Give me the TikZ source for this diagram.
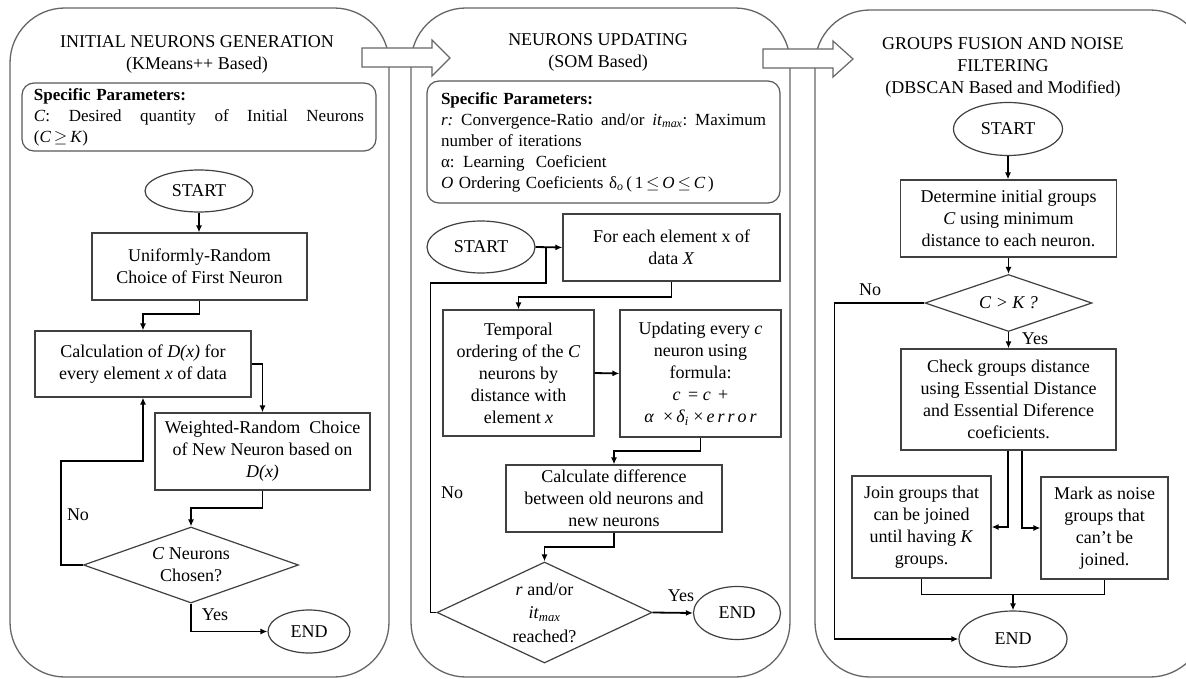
\documentclass[tikz,border=0pt]{standalone}
\usepackage{fontspec}
\setmainfont{Liberation Serif}
\usetikzlibrary{shapes.geometric,arrows.meta,calc}
\begin{document}
\begin{tikzpicture}[x=1pt,y=-1pt,
  every node/.style={font=\fontsize{18}{22}\selectfont, inner sep=0pt},
  panel/.style={draw=black!60, line width=1.3pt, rounded corners=55pt},
  parbox/.style={draw=black!65, line width=1.2pt, rounded corners=12pt, align=left, font=\fontsize{17}{21}\selectfont},
  box/.style={draw=black!75, line width=1.2pt, align=center},
  term/.style={ellipse, draw=black!75, line width=1.2pt},
  dec/.style={diamond, draw=black!75, line width=1.2pt},
  dtext/.style={align=center},
  conn/.style={line width=1.8pt, -{Latex[length=7pt,width=6pt]}},
  link/.style={line width=1.8pt},
  blockarrow/.style={draw=black!60, line width=1.2pt, fill=white}
]
\clip (0,0) rectangle (1186,679);
\fill[white] (0,0) rectangle (1186,679);
% panels
\draw[panel] (10,8) rectangle (389,677);
\draw[panel] (411,8) rectangle (790,677);
\draw[panel] (815,10) rectangle (1205,677);
% block arrows
\draw[blockarrow] (362,48) -- (432,48) -- (432,40) -- (450,58) -- (432,76) -- (432,67) -- (362,67) -- cycle;
\draw[blockarrow] (763,49) -- (833,49) -- (833,41) -- (853,59) -- (833,77) -- (833,68) -- (763,68) -- cycle;

% ---------------- panel 1
\node[align=center] (t1) at (197,54) {INITIAL NEURONS GENERATION\\(KMeans++ Based)};
\node[parbox, text width=330pt, inner xsep=12pt, minimum height=68pt] (p1) at (199,117)
  {\textbf{Specific Parameters:}\\
   \makebox[330pt][l]{\textit{C}:\hfill Desired\hfill quantity\hfill of\hfill Initial\hfill Neurons}\\
   (\textit{C}\,$\geq$\,\textit{K})};
\node[term, minimum width=108pt, minimum height=42pt] (s1) at (199,191) {START};
\node[box, minimum width=215pt, minimum height=67pt] (b1) at (199.5,266.5) {Uniformly-Random\\Choice of First Neuron};
\node[box, minimum width=216pt, minimum height=66pt] (b2) at (143,364) {Calculation of \textit{D(x)} for\\every element \textit{x} of data};
\node[box, minimum width=215pt, minimum height=77pt] (b3) at (262.5,451.5) {Weighted-Random\ \ Choice\\of New Neuron based on\\\textit{D(x)}};
\node[dec, minimum width=215pt, minimum height=76pt] (d1) at (191,565) {};
\node[dtext] (d1t) at (d1) {\textit{C} Neurons\\Chosen?};
\node[term, minimum width=82pt, minimum height=43pt] (e1) at (309,631.5) {END};
\node (no1) at (78,515) {No};
\node (yes1) at (215,615) {Yes};

\draw[conn] (s1.south) -- (s1.south |- b1.north);
\draw[conn] (b1.south) -- ++(0,13) -| (b2.north);
\draw[conn] (b2.east) -| (b3.north);
\draw[conn] (b3.south) -- ++(0,17) -| (d1.north);
\draw[conn] (d1.west) -- ++(-22,0) -- ++(0,-104) -| (b2.south);
\draw[conn] (d1.south) |- (e1.west);

% ---------------- panel 2
\node[align=center] (t2) at (598,52) {NEURONS UPDATING\\(SOM Based)};
\node[parbox, text width=325pt, inner xsep=14pt, minimum height=122pt] (p2) at (603.5,142)
  {\textbf{Specific Parameters:}\\
   \makebox[325pt][l]{\textit{r:}\hfill Convergence-Ratio\hfill and/or\hfill \textit{it}\textsubscript{\textit{max}}:\hfill Maximum}\\
   number of iterations\\
   α: Learning\ \ Coeficient\\
   \textit{O} Ordering Coeficients δ\textsubscript{\textit{o}}\,(\,1\,$\leq$\,\textit{O}\,$\leq$\,\textit{C}\,)};
\node[term, minimum width=108pt, minimum height=52pt] (s2) at (481,247) {START};
\node[box, minimum width=217pt, minimum height=67pt] (b4) at (671.5,247.5) {For each element x of\\data \textit{X}};
\node[box, minimum width=151pt, minimum height=126pt] (b5) at (518.5,373) {Temporal\\ordering of the \textit{C}\\neurons by\\distance with\\element \textit{x}};
\node[box, minimum width=161pt, minimum height=127pt] (b6) at (700.5,373.5) {Updating every \textit{c}\\neuron using\\formula:\\\textit{c}\,\ =\ \textit{c}\ \,+\\\textit{α}\ \ ×\,\textit{δ}\textsubscript{\textit{i}}\ ×\,\textit{e\,r\,r\,o\,r}};
\node[box, minimum width=216pt, minimum height=67pt] (b7) at (614,498.5) {Calculate difference\\between old neurons and\\new neurons};
\node[dec, minimum width=215pt, minimum height=101pt] (d2) at (544.5,612.5) {};
\node[dtext, font=\fontsize{18}{23.5}\selectfont] (d2t) at (d2) {\textit{r} and/or\\\textit{it}\textsubscript{\textit{max}}\\reached?};
\node[term, minimum width=87pt, minimum height=53pt] (e2) at (737,613) {END};
\node (no2) at (452,493) {No};
\node (yes2) at (681,596) {Yes};
\coordinate (j2) at ($(s2.east)+(10,0)$);

\draw[conn] (s2.east) -- (b4.west);
\draw[conn] (b4.south) -- ++(0,15) -| (b5.north);
\draw[conn] (b5.east) -- (b6.west);
\draw[conn] (b6.south) -- ++(0,13) -| (b7.north);
\draw[conn] (b7.south) -- ++(0,14) -| (d2.north);
\draw[conn] (d2.east) -- (e2.west);
\draw[link] (d2.west) -- ++(-6,0) |- ($(j2)+(0,36)$) -- (j2);

% ---------------- panel 3
\node[align=center] (t3) at (1003,67) {GROUPS FUSION AND NOISE\\FILTERING\\(DBSCAN Based and Modified)};
\node[term, minimum width=109pt, minimum height=53pt] (s3) at (1008,129) {START};
\node[box, minimum width=216pt, minimum height=77pt] (b8) at (1008.5,218.5) {Determine initial groups\\\textit{C} using minimum\\distance to each neuron.};
\node[dec, minimum width=167pt, minimum height=57pt] (d3) at (1008.5,303) {};
\node[dtext] (d3t) at (d3) {\textit{C} \textit{>} \textit{K ?}};
\node[box, minimum width=215pt, minimum height=101pt] (b9) at (1008.5,399.5) {Check groups distance\\using Essential Distance\\and Essential Diference\\coeficients.};
\node[box, minimum width=139pt, minimum height=102pt] (b10) at (921.5,527) {Join groups that\\can be joined\\until having \textit{K}\\groups.};
\node[box, minimum width=127pt, minimum height=102pt] (b11) at (1104.5,528) {Mark as noise\\groups that\\can’t be\\joined.};
\node[term, minimum width=108pt, minimum height=56pt] (e3) at (1013,639) {END};
\node (no3) at (870,290) {No};
\node (yes3) at (1035,339) {Yes};
\coordinate (m3) at ($(e3.north)+(0,-16)$);

\draw[conn] (s3.south) -- (s3.south |- b8.north);
\draw[conn] (d3.north |- b8.south) -- (d3.north);
\draw[conn] (d3.south) -- (d3.south |- b9.north);
\draw[conn] ([xshift=-0.5pt]b9.south) |- (b10.east);
\draw[conn] ([xshift=13.5pt]b9.south) |- (b11.west);
\draw[link] (b10.south) |- (m3) -| (b11.south);
\draw[conn] (m3) -- (e3.north);
\draw[conn] (d3.west) -- ++(-90,0) |- (e3.west);
\end{tikzpicture}
\end{document}
